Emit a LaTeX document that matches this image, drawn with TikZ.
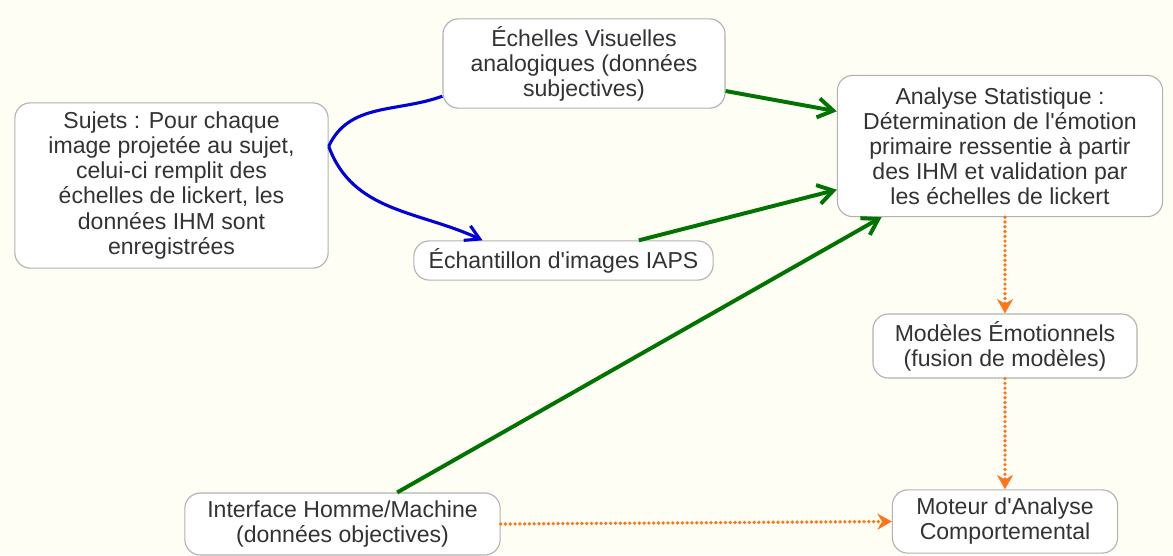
\documentclass[tikz,border=0pt]{standalone}
\usepackage{fontspec}
\setmainfont{Liberation Sans}
\usetikzlibrary{arrows.meta}
\colorlet{mybg}{yellow!4!white}
\colorlet{mygray}{black!30}
\colorlet{mytext}{black!80}
\colorlet{myblue}{blue!85!black}
\colorlet{mygreen}{green!45!black}
\colorlet{myorange}{orange!80!red!90}
\tikzset{
    every node/.style={draw=mygray,line width=0.8pt,fill=white,text=mytext,
        rounded corners=11pt,inner sep=0pt,align=center,
        font=\fontsize{16.4}{17.8}\selectfont},
    blu/.style={myblue,line width=2.2pt,-{Straight Barb[length=3.5mm,width=4mm]}},
    grn/.style={mygreen,line width=2.8pt,-{Straight Barb[length=3.8mm,width=4.8mm]}},
    org/.style={myorange,line width=2.6pt,line cap=round,dash pattern=on 0pt off 3.4pt,
        -{Stealth[length=3.6mm,width=4mm,line cap=butt]}}
}

\begin{document}
\begin{tikzpicture}[x=0.025cm,y=-0.025cm]

\fill[mybg] (0,0) rectangle (1173,555);
\useasboundingbox (0,0) rectangle (1173,555);

\node[minimum width=7.83cm,minimum height=4.13cm] at (171.5,185.5) (n00)
    {Sujets : Pour chaque\\image projetée au sujet,\\celui-ci remplit des\\échelles de lickert, les\\données IHM sont\\enregistrées};

\node[minimum width=7.05cm,minimum height=2.23cm] at (584,63.5) (n10)
    {Échelles Visuelles\\analogiques (données\\subjectives)};
\node[minimum width=7.48cm,minimum height=0.98cm] at (563.5,260.5) (n11)
    {Échantillon d\textquotesingle images IAPS};
\node[minimum width=7.88cm,minimum height=1.55cm] at (342.5,524) (n12)
    {Interface Homme/Machine\\(données objectives)};

\node[minimum width=8.13cm,minimum height=3.53cm] at (1000,146) (n20)
    {Analyse Statistique :\\Détermination de l\textquotesingle émotion\\primaire ressentie à partir\\des IHM et validation par\\les échelles de lickert};

\node[minimum width=6.6cm,minimum height=1.6cm] at (1005,346) (n30)
    {Modèles Émotionnels\\(fusion de modèles)};
\node[minimum width=5.63cm,minimum height=1.58cm] at (1005,521.5) (n40)
    {Moteur d\textquotesingle Analyse\\Comportemental};

\draw[blu,-] (n00.14) to[out=65,in=200] (n10.193);
\draw[blu] (n00.14) to[out=-70,in=155] (n11.166);

\draw[grn] (n10.-11) -- (n20.168);
\draw[grn] (n11.15) -- (n20.195);
\draw[grn] (n12.30) -- (n20.211);

\draw[org] (n20.south -| n30.north) -- (n30.north);
\draw[org] (n30.south) -- (n40.north);
\draw[org] (n12.east) -- (n40.west);
\end{tikzpicture}
\end{document}
